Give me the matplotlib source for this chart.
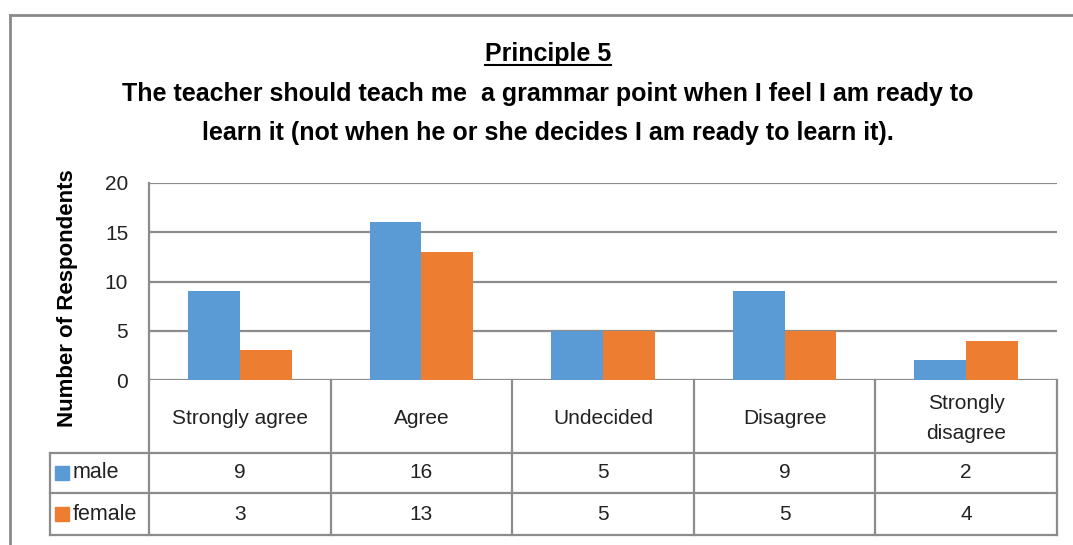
import matplotlib.pyplot as plt
import numpy as np
from matplotlib.lines import Line2D

plt.rcParams['font.family'] = ['Liberation Sans', 'DejaVu Sans']

# data
categories = ['Strongly agree', 'Agree', 'Undecided', 'Disagree', 'Strongly\ndisagree']
series_names = ['male', 'female']
male = [9, 16, 5, 9, 2]
female = [3, 13, 5, 5, 4]
yticks = [0, 5, 10, 15, 20]

blue = '#5B9BD5'
orange = '#ED7D31'
grid_c = '#8C8C8C'

W, H = 1073, 545
fig = plt.figure(figsize=(W / 100, H / 100), dpi=100)

def fx(px):
    return px / W

def fy(py):
    return 1 - py / H

# plot area in pixels
left, right, top, zero = 149, 1057, 183, 380
ax = fig.add_axes([fx(left), fy(zero), fx(right - left), fy(top) - fy(zero)])

x = np.arange(len(categories))
bw = 0.285
ax.bar(x - bw / 2, male, width=bw, color=blue, zorder=3)
ax.bar(x + bw / 2, female, width=bw, color=orange, zorder=3)

ax.set_xlim(-0.5, len(categories) - 0.5)
ax.set_ylim(0, 20)
ax.set_yticks(yticks)
ax.set_yticklabels([str(t) for t in yticks], fontsize=15, color='#222222')
ax.yaxis.grid(True, color=grid_c, linewidth=1.6, zorder=0)
ax.tick_params(axis='y', length=0, pad=15)
ax.tick_params(axis='x', bottom=False, labelbottom=False)
for s in ['top', 'right', 'bottom']:
    ax.spines[s].set_visible(False)
ax.spines['left'].set_color(grid_c)
ax.spines['left'].set_linewidth(1.6)

ax.set_ylabel('Number of Respondents', fontsize=16, fontweight='bold')
ax.yaxis.set_label_coords(-0.09, 0.415)
ax.yaxis.label.set_va('center')
ax.yaxis.label.set_ha('center')

# data table below the plot, in pixel-like coordinates
tab_left, tab_bottom = 50, 535
row_lines = [380, 453, 493, 535]
tax = fig.add_axes([fx(tab_left), fy(tab_bottom), fx(right - tab_left), fy(zero) - fy(tab_bottom)])
cat_w = (right - left) / len(categories)
lab_w = (left - tab_left) / cat_w
tax.set_xlim(-0.5 - lab_w, len(categories) - 0.5)
tax.set_ylim(tab_bottom, zero)
tax.axis('off')

lw = 1.6
for yy in row_lines[1:]:
    tax.plot([-0.5 - lab_w, len(categories) - 0.5], [yy, yy], color=grid_c, lw=lw, clip_on=False)
for i in range(len(categories) + 1):
    xx = i - 0.5
    tax.plot([xx, xx], [row_lines[0], row_lines[-1]], color=grid_c, lw=lw, clip_on=False)
tax.plot([-0.5 - lab_w, -0.5 - lab_w], [row_lines[1], row_lines[-1]], color=grid_c, lw=lw, clip_on=False)

cell_font = dict(fontsize=15, ha='center', va='center', color='#222222')
for i, c in enumerate(categories):
    tax.text(i, (row_lines[0] + row_lines[1]) / 2 + 2, c, linespacing=1.75, **cell_font)
for r, vals in enumerate([male, female]):
    yc = (row_lines[r + 1] + row_lines[r + 2]) / 2
    for i, v in enumerate(vals):
        tax.text(i, yc, str(v), **cell_font)

for r, (name, col) in enumerate(zip(series_names, [blue, orange])):
    yc = (row_lines[r + 1] + row_lines[r + 2]) / 2
    fig.patches.append(plt.Rectangle((fx(55), fy(yc + 7)), fx(14), fy(yc - 7) - fy(yc + 7),
                                     transform=fig.transFigure, color=col, figure=fig))
    fig.text(fx(73), fy(yc), name, fontsize=15.5, va='center', ha='left', color='#222222')

# titles
t1 = fig.text(fx(548), fy(54), 'Principle 5', fontsize=18, fontweight='bold', ha='center', va='center')
fig.text(fx(548), fy(94), 'The teacher should teach me  a grammar point when I feel I am ready to',
         fontsize=18, fontweight='bold', ha='center', va='center')
fig.text(fx(548), fy(133), 'learn it (not when he or she decides I am ready to learn it).',
         fontsize=18, fontweight='bold', ha='center', va='center')

# outer frame
fig.add_artist(Line2D([fx(10), fx(10)], [fy(15), 0], color='#8A8A8A', lw=2, transform=fig.transFigure))
fig.add_artist(Line2D([fx(10), 1], [fy(15), fy(15)], color='#8A8A8A', lw=2, transform=fig.transFigure))

# underline the heading
fig.canvas.draw()
bb = t1.get_window_extent()
fig.add_artist(Line2D([bb.x0 / W, bb.x1 / W], [bb.y0 / H + 0.001, bb.y0 / H + 0.001],
                      color='black', lw=1.5, transform=fig.transFigure))

fig.savefig('out.png', dpi=100)
